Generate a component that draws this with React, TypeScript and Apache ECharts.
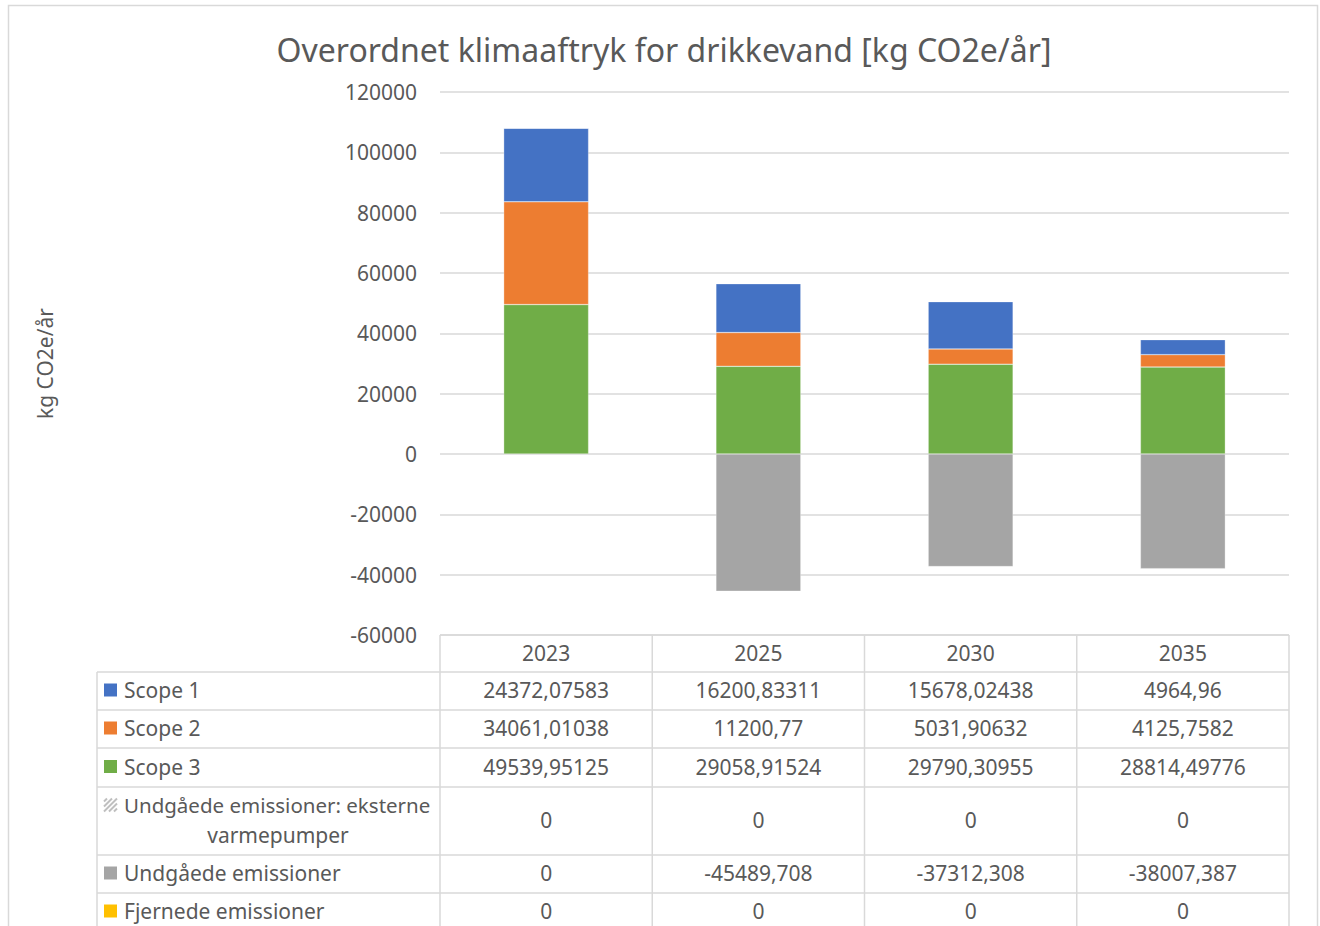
import React, { useEffect, useRef } from "react";
import * as echarts from "echarts";

const categories = ["2023", "2025", "2030", "2035"];
const scope1 = [24372.07583, 16200.83311, 15678.02438, 4964.96];
const scope2 = [34061.01038, 11200.77, 5031.90632, 4125.7582];
const scope3 = [49539.95125, 29058.91524, 29790.30955, 28814.49776];
const eksterne = [0, 0, 0, 0];
const undgaaede = [0, -45489.708, -37312.308, -38007.387];
const fjernede = [0, 0, 0, 0];
const yTicks = { min: -60000, max: 120000, interval: 20000 };

const TITLE = "Overordnet klimaaftryk for drikkevand [kg CO2e/år]";
const Y_NAME = "kg CO2e/år";

const TXT = "#595959";
const LINE = "#D9D9D9";
const FONT = "'Noto Sans', sans-serif";

export default function App() {
  const ref = useRef<HTMLDivElement>(null);
  useEffect(() => {
    if (!ref.current) return;
    const chart = echarts.init(ref.current, undefined, { renderer: "svg" });

    const W = 1320;
    const gridLeft = 440;
    const gridRight = 1289;
    const gridTop = 92;
    const gridBottom = 635;
    const tableLeft = 97;
    const colW = (gridRight - gridLeft) / categories.length;
    const FS = 21;

    const rows = [
      { label: ["Scope 1"], key: "#4472C4", values: scope1, h: 38 },
      { label: ["Scope 2"], key: "#ED7D31", values: scope2, h: 38 },
      { label: ["Scope 3"], key: "#70AD47", values: scope3, h: 39 },
      { label: ["Undgåede emissioner: eksterne", "varmepumper"], key: "hatch", values: eksterne, h: 68 },
      { label: ["Undgåede emissioner"], key: "#A5A5A5", values: undgaaede, h: 38 },
      { label: ["Fjernede emissioner"], key: "#FFC000", values: fjernede, h: 38 },
    ];

    const fmt = (v: number) => String(v).replace(".", ",");
    const g: any[] = [];
    const lineStyle = { stroke: LINE, lineWidth: 1.5 };

    // outer border
    g.push({ type: "rect", shape: { x: 8.5, y: 5.5, width: 1309, height: 960 }, style: { fill: "none", stroke: LINE, lineWidth: 1.5 }, z: 0 });

    // title
    g.push({ type: "text", x: W / 2 + 4, y: 49, style: { text: TITLE, fill: TXT, font: `32px ${FONT}`, align: "center", verticalAlign: "middle" } });

    // header row lines
    const headerBottom = 672;
    g.push({ type: "line", shape: { x1: gridLeft, y1: gridBottom, x2: gridRight, y2: gridBottom }, style: lineStyle });
    let y = headerBottom;
    const hLines = [y];
    rows.forEach((r) => { y += r.h; hLines.push(y); });
    hLines.forEach((yy) => g.push({ type: "line", shape: { x1: tableLeft, y1: yy, x2: gridRight, y2: yy }, style: lineStyle }));
    const bottomY = 960;
    g.push({ type: "line", shape: { x1: tableLeft, y1: headerBottom, x2: tableLeft, y2: bottomY }, style: lineStyle });
    for (let i = 0; i <= categories.length; i++) {
      const x = gridLeft + i * colW;
      g.push({ type: "line", shape: { x1: x, y1: gridBottom, x2: x, y2: bottomY }, style: lineStyle });
    }

    // rows
    let top = headerBottom;
    rows.forEach((r) => {
      const cy = top + r.h / 2 - 1;
      const keyX = 104;
      const keySize = 13;
      const firstLineY = r.label.length > 1 ? cy - 15 : cy;
      if (r.key === "hatch") {
        const kx = keyX, ky = firstLineY - keySize / 2;
        for (let k = -2; k <= 2; k++) {
          const off = k * 5;
          const x1 = Math.max(kx, kx + off);
          const y1 = Math.min(ky + keySize, ky + keySize + off);
          const x2 = Math.min(kx + keySize, kx + keySize + off);
          const y2 = Math.max(ky, ky + off);
          g.push({ type: "line", shape: { x1, y1, x2, y2 }, style: { stroke: "#BFBFBF", lineWidth: 2 } });
        }
      } else {
        g.push({ type: "rect", shape: { x: keyX, y: firstLineY - keySize / 2, width: keySize, height: keySize }, style: { fill: r.key } });
      }
      if (r.label.length > 1) {
        g.push({ type: "text", x: 124, y: cy - 15, style: { text: r.label[0], fill: TXT, font: `20.5px ${FONT}`, align: "left", verticalAlign: "middle" } });
        g.push({ type: "text", x: 278, y: cy + 15, style: { text: r.label[1], fill: TXT, font: `${FS}px ${FONT}`, align: "center", verticalAlign: "middle" } });
      } else {
        g.push({ type: "text", x: 124, y: cy, style: { text: r.label[0], fill: TXT, font: `${FS}px ${FONT}`, align: "left", verticalAlign: "middle" } });
      }
      r.values.forEach((v, i) => {
        g.push({ type: "text", x: gridLeft + (i + 0.5) * colW, y: cy, style: { text: fmt(v), fill: TXT, font: `${FS}px ${FONT}`, align: "center", verticalAlign: "middle" } });
      });
      top += r.h;
    });

    const barCommon = { type: "bar", stack: "total", barWidth: "40%", itemStyle: { borderColor: "rgba(255,255,255,0.6)", borderWidth: 0.5 } };

    chart.setOption({
      animation: false,
      grid: { left: gridLeft, right: W - gridRight, top: gridTop, bottom: 926 - gridBottom },
      xAxis: {
        type: "category",
        data: categories,
        position: "bottom",
        axisLine: { show: false, onZero: false },
        axisTick: { show: false },
        axisLabel: { color: TXT, fontSize: FS, fontFamily: FONT, margin: 7 },
      },
      yAxis: {
        type: "value",
        min: yTicks.min,
        max: yTicks.max,
        interval: yTicks.interval,
        name: Y_NAME,
        nameLocation: "middle",
        nameRotate: 90,
        nameGap: 385,
        nameTextStyle: { color: TXT, fontSize: FS, fontFamily: FONT },
        axisLine: { show: false },
        axisTick: { show: false },
        axisLabel: { color: TXT, fontSize: FS, fontFamily: FONT, margin: 23, formatter: (v: number) => String(v) },
        splitLine: { lineStyle: { color: LINE, width: 1.5 } },
      },
      series: [
        { ...barCommon, name: "Scope 3", data: scope3, itemStyle: { ...barCommon.itemStyle, color: "#70AD47" } },
        { ...barCommon, name: "Scope 2", data: scope2, itemStyle: { ...barCommon.itemStyle, color: "#ED7D31" } },
        { ...barCommon, name: "Scope 1", data: scope1, itemStyle: { ...barCommon.itemStyle, color: "#4472C4" } },
        { ...barCommon, name: "Undgåede emissioner: eksterne varmepumper", data: eksterne, itemStyle: { color: "#BFBFBF" } },
        { ...barCommon, name: "Undgåede emissioner", data: undgaaede, itemStyle: { ...barCommon.itemStyle, color: "#A5A5A5" } },
        { ...barCommon, name: "Fjernede emissioner", data: fjernede, itemStyle: { color: "#FFC000" } },
      ],
      graphic: g,
    });
    return () => chart.dispose();
  }, []);
  return (
    <div
      ref={ref}
      style={{ position: "fixed", left: 0, top: 0, width: 1320, height: 926, background: "#fff" }}
    />
  );
}
